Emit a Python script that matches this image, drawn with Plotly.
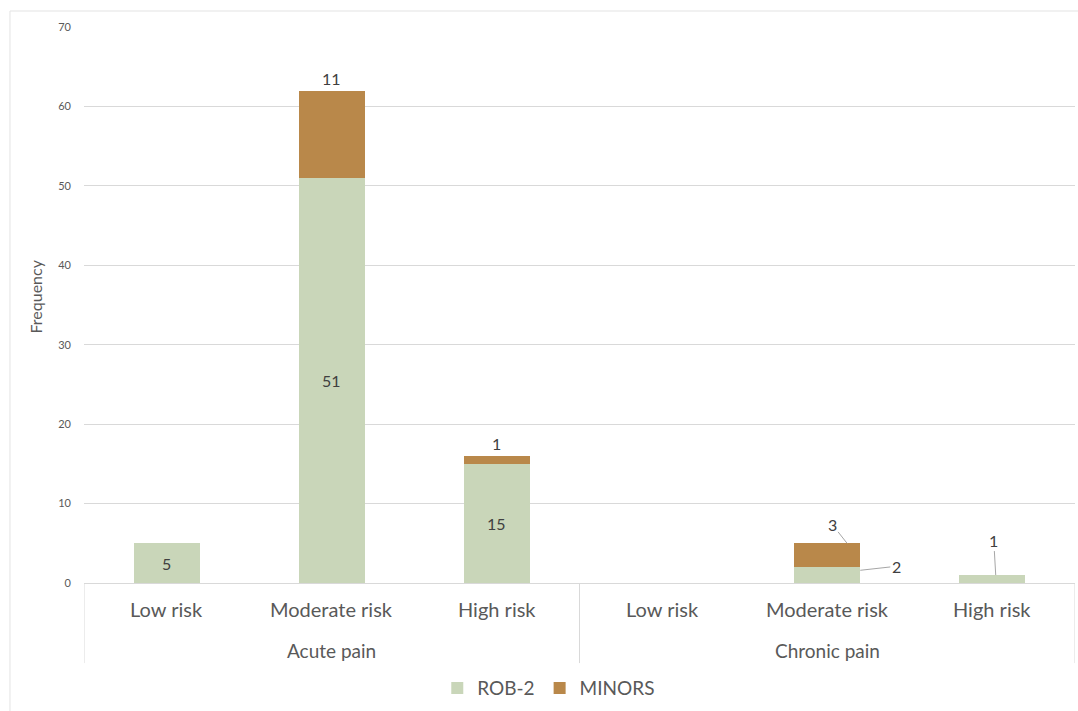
import plotly.graph_objects as go

groups = ["Acute pain", "Acute pain", "Acute pain", "Chronic pain", "Chronic pain", "Chronic pain"]
risks = ["Low risk", "Moderate risk", "High risk", "Low risk", "Moderate risk", "High risk"]
rob2 = [5, 51, 15, 0, 2, 1]
minors = [0, 11, 1, 0, 3, 0]
yticks = [0, 10, 20, 30, 40, 50, 60, 70]

GREEN = "#c9d6b9"
BROWN = "#b9884a"
TXT = "#404040"
GRID = "#d9d9d9"
FONT = "Lato, Open Sans, sans-serif"

xs = list(range(len(risks)))
fig = go.Figure()
fig.add_trace(go.Bar(x=xs, y=rob2, name="ROB-2", marker_color=GREEN, width=0.4,
                     marker_line_width=0))
fig.add_trace(go.Bar(x=xs, y=minors, name="MINORS", marker_color=BROWN, width=0.4,
                     marker_line_width=0))

ann = []
LBL = dict(size=16, color=TXT)
for i in xs:
    r, m = rob2[i], minors[i]
    if r >= 5:
        ann.append(dict(x=i, y=r / 2, text=str(r), showarrow=False, yanchor="middle", font=LBL))
    if m >= 5 or (m > 0 and r >= 5):
        ann.append(dict(x=i, y=r + m, text=str(m), showarrow=False, yanchor="bottom", yshift=1,
                        font=LBL))
# small labels with leader lines
i = 4
ann.append(dict(x=i + 0.12, y=rob2[i] + minors[i], text=str(minors[i]), showarrow=True, arrowhead=0,
                arrowwidth=1, arrowcolor="#a6a6a6", ax=-15, ay=-19, standoff=0, font=LBL))
ann.append(dict(x=i + 0.2, y=rob2[i] - 0.4, text=str(rob2[i]), showarrow=True, arrowhead=0,
                arrowwidth=1, arrowcolor="#a6a6a6", ax=36, ay=-4, standoff=0, font=LBL))
i = 5
ann.append(dict(x=i + 0.02, y=rob2[i], text=str(rob2[i]), showarrow=True, arrowhead=0,
                arrowwidth=1, arrowcolor="#a6a6a6", ax=-2, ay=-35, standoff=0, font=LBL))

# category labels
for i in xs:
    ann.append(dict(x=i, y=-0.047, yref="paper", yanchor="middle", text=risks[i], showarrow=False,
                    font=dict(size=20, color="#595959")))
gnames = []
for g in groups:
    if g not in gnames:
        gnames.append(g)
for gname in gnames:
    idx = [k for k, g in enumerate(groups) if g == gname]
    ann.append(dict(x=sum(idx) / len(idx), y=-0.122, yref="paper", yanchor="middle", text=gname,
                    showarrow=False, font=dict(size=19, color="#595959")))
# y title
ann.append(dict(x=-0.049, xref="paper", y=0.516, yref="paper", text="Frequency", textangle=-90,
                showarrow=False, xanchor="center", yanchor="middle",
                font=dict(size=16, color="#595959")))

shapes = []
seps = [-0.5, 2.5, 5.5]
for s in seps:
    shapes.append(dict(type="line", xref="x", yref="paper", x0=s, x1=s, y0=0, y1=-0.144,
                       line=dict(color=GRID, width=1)))
# outer border (top & left)
shapes.append(dict(type="line", xref="paper", yref="paper", x0=-0.0747, x1=1.01, y0=1.0288, y1=1.0288,
                   line=dict(color="#e3e3e3", width=1)))
shapes.append(dict(type="line", xref="paper", yref="paper", x0=-0.0747, x1=-0.0747, y0=1.0288, y1=-0.3,
                   line=dict(color="#e3e3e3", width=1)))

fig.update_layout(
    width=1078, height=711,
    barmode="stack",
    plot_bgcolor="white", paper_bgcolor="white",
    margin=dict(l=84, r=3, t=27, b=128),
    font=dict(family=FONT, color=TXT),
    xaxis=dict(range=[-0.5, 5.5], showticklabels=False, showgrid=False, zeroline=False,
               showline=False, fixedrange=True),
    yaxis=dict(range=[0, 70], tickvals=yticks, showgrid=True, gridcolor=GRID, gridwidth=1,
               zeroline=True, zerolinecolor=GRID, zerolinewidth=1, showline=False,
               tickfont=dict(size=11, color="#595959"), ticklabelstandoff=12),
    legend=dict(orientation="h", x=0.469, xanchor="center", y=-0.189, yanchor="middle",
                font=dict(size=19, color="#595959"), traceorder="normal", itemwidth=30),
    annotations=ann,
    shapes=shapes,
    showlegend=True,
)
fig.write_html("out.html")
